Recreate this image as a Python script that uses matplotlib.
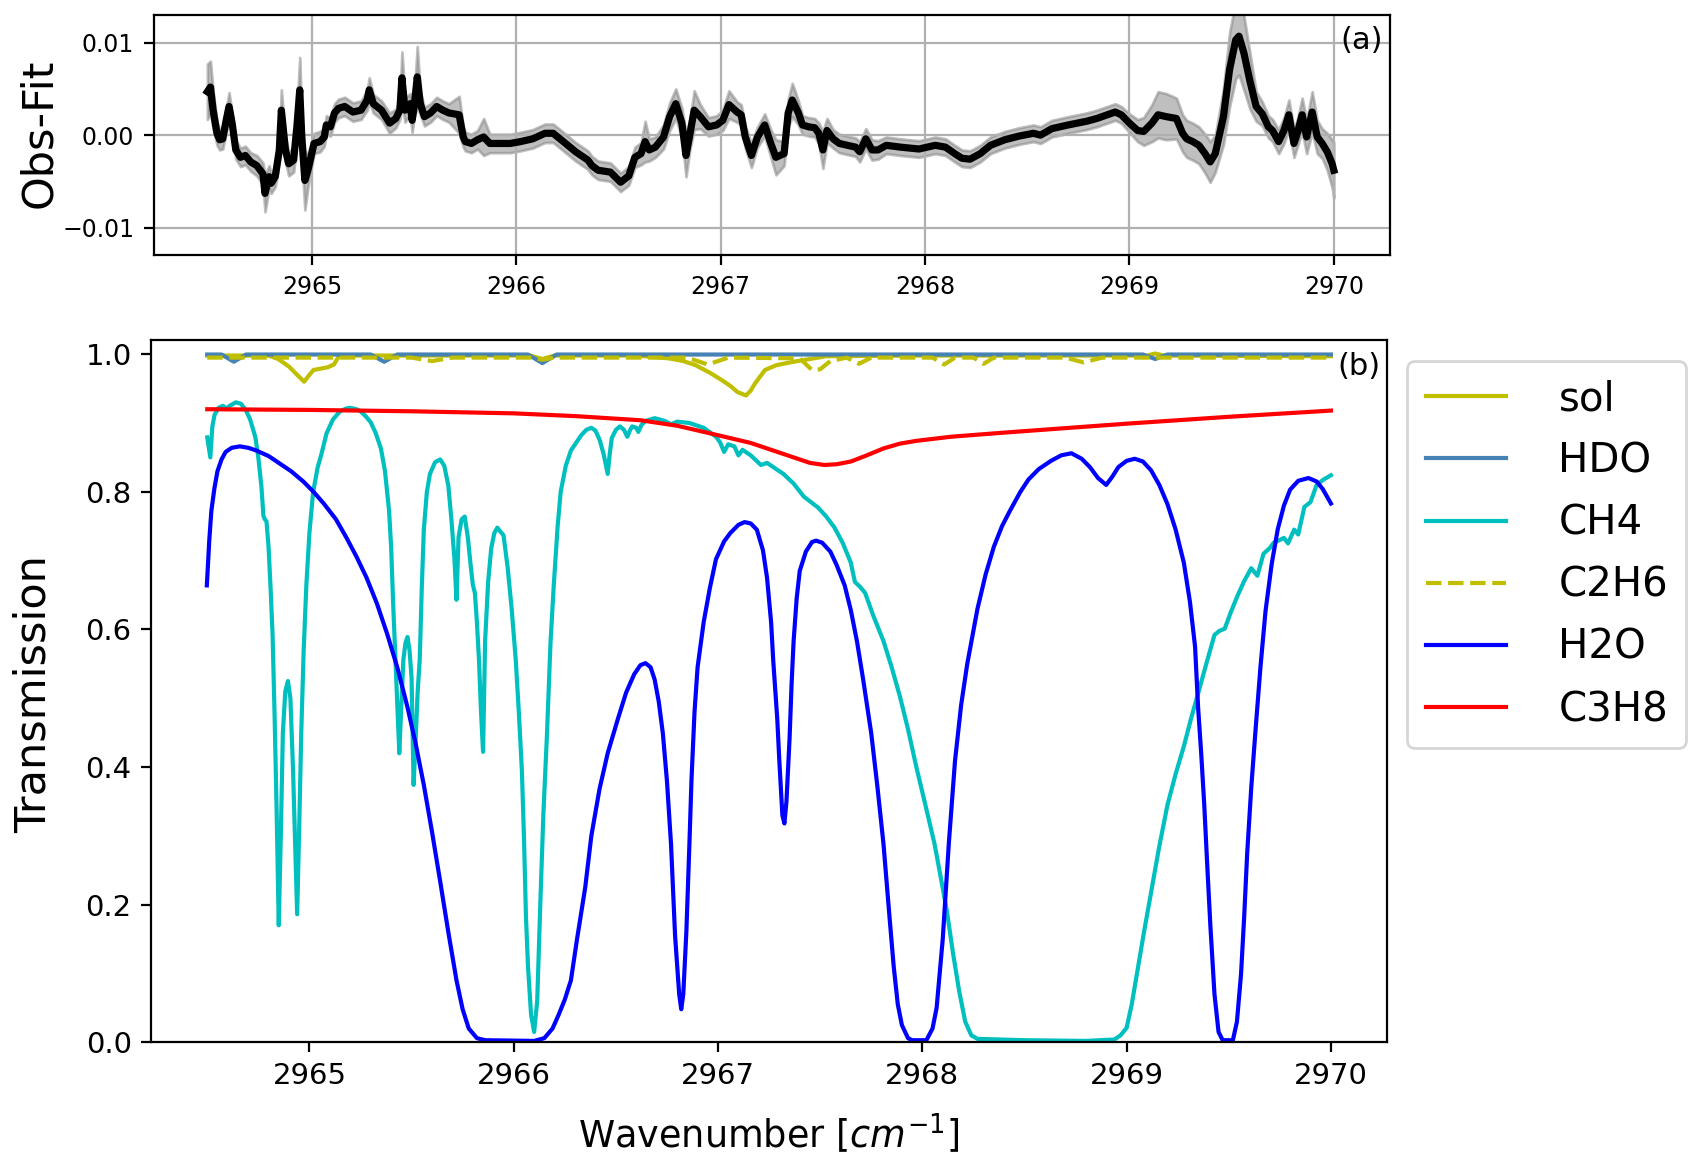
import matplotlib
matplotlib.use("Agg")
import matplotlib.pyplot as plt

# ---- panel (a): residual Obs-Fit with its uncertainty band ----
obs_x = [2964.488, 2964.503, 2964.516, 2964.535, 2964.548, 2964.563, 2964.580, 2964.594, 2964.609, 2964.627,
         2964.650, 2964.674, 2964.700, 2964.730, 2964.760, 2964.770, 2964.790, 2964.800, 2964.820, 2964.840,
         2964.850, 2964.860, 2964.870, 2964.886, 2964.910, 2964.926, 2964.940, 2964.950, 2964.965, 2964.980,
         2965.010, 2965.040, 2965.060, 2965.070, 2965.090, 2965.110, 2965.130, 2965.160, 2965.200, 2965.240,
         2965.270, 2965.280, 2965.300, 2965.340, 2965.380, 2965.410, 2965.430, 2965.440, 2965.455, 2965.480,
         2965.490, 2965.500, 2965.515, 2965.530, 2965.550, 2965.580, 2965.610, 2965.640, 2965.670, 2965.720,
         2965.740, 2965.750, 2965.780, 2965.810, 2965.840, 2965.870, 2965.910, 2965.970, 2966.020, 2966.080,
         2966.140, 2966.180, 2966.230, 2966.290, 2966.350, 2966.370, 2966.400, 2966.460, 2966.510, 2966.550,
         2966.580, 2966.610, 2966.630, 2966.650, 2966.680, 2966.720, 2966.750, 2966.780, 2966.810, 2966.830,
         2966.850, 2966.870, 2966.900, 2966.940, 2966.980, 2967.010, 2967.040, 2967.080, 2967.100, 2967.120,
         2967.150, 2967.180, 2967.215, 2967.245, 2967.270, 2967.310, 2967.330, 2967.350, 2967.380, 2967.400,
         2967.430, 2967.460, 2967.480, 2967.500, 2967.520, 2967.550, 2967.580, 2967.620, 2967.660, 2967.680,
         2967.710, 2967.740, 2967.770, 2967.810, 2967.880, 2967.970, 2968.050, 2968.100, 2968.145, 2968.180,
         2968.220, 2968.270, 2968.320, 2968.390, 2968.460, 2968.530, 2968.565, 2968.620, 2968.700, 2968.790,
         2968.840, 2968.930, 2968.960, 2969.000, 2969.040, 2969.070, 2969.110, 2969.140, 2969.180, 2969.230,
         2969.260, 2969.280, 2969.310, 2969.340, 2969.370, 2969.395, 2969.420, 2969.460, 2969.490, 2969.520,
         2969.536, 2969.560, 2969.590, 2969.620, 2969.650, 2969.680, 2969.700, 2969.730, 2969.756, 2969.780,
         2969.805, 2969.824, 2969.845, 2969.867, 2969.894, 2969.919, 2969.943, 2969.968, 2969.992, 2970.000]
obs_y = [0.0047, 0.0052, 0.0027, 0.0002, -0.0005, -0.0004, 0.0016, 0.0031, 0.0013, -0.0016,
         -0.0024, -0.0022, -0.0029, -0.0033, -0.0042, -0.0063, -0.0045, -0.0052, -0.0045, -0.0016,
         0.0027, 0.0005, -0.0016, -0.0031, -0.0027, 0.0009, 0.0049, -0.0002, -0.0049, -0.0038,
         -0.0009, -0.0007, -0.0002, 0.0011, 0.0009, 0.0024, 0.0029, 0.0031, 0.0025, 0.0027,
         0.0038, 0.0049, 0.0034, 0.0027, 0.0013, 0.0018, 0.0027, 0.0062, 0.0027, 0.0034,
         0.0016, 0.0031, 0.0063, 0.0034, 0.0020, 0.0024, 0.0031, 0.0027, 0.0024, 0.0022,
         -0.0002, -0.0007, -0.0009, -0.0005, -0.0002, -0.0009, -0.0009, -0.0009, -0.0007, -0.0004,
         0.0002, 0.0002, -0.0007, -0.0018, -0.0027, -0.0033, -0.0038, -0.0040, -0.0051, -0.0044,
         -0.0024, -0.0020, -0.0007, -0.0016, -0.0013, -0.0002, 0.0020, 0.0034, 0.0013, -0.0022,
         0.0002, 0.0027, 0.0020, 0.0009, 0.0011, 0.0016, 0.0033, 0.0025, 0.0022, -0.0002,
         -0.0022, -0.0002, 0.0011, -0.0009, -0.0024, -0.0020, 0.0024, 0.0038, 0.0024, 0.0011,
         0.0009, 0.0008, 0.0002, -0.0016, 0.0005, -0.0004, -0.0009, -0.0011, -0.0013, -0.0018,
         -0.0004, -0.0016, -0.0016, -0.0011, -0.0013, -0.0015, -0.0011, -0.0013, -0.0020, -0.0025,
         -0.0026, -0.0020, -0.0011, -0.0005, -0.0001, 0.0002, 0.0000, 0.0007, 0.0011, 0.0015,
         0.0018, 0.0025, 0.0022, 0.0013, 0.0005, 0.0004, 0.0013, 0.0022, 0.0020, 0.0018,
         0.0002, -0.0004, -0.0007, -0.0011, -0.0020, -0.0029, -0.0020, 0.0020, 0.0071, 0.0103,
         0.0107, 0.0089, 0.0058, 0.0031, 0.0023, 0.0009, 0.0005, -0.0007, 0.0005, 0.0022,
         -0.0009, 0.0004, 0.0022, -0.0002, 0.0025, -0.0002, -0.0009, -0.0018, -0.0031, -0.0038]
obs_err = [0.0030, 0.0028, 0.0020, 0.0013, 0.0011, 0.0011, 0.0013, 0.0015, 0.0011, 0.0010,
           0.0010, 0.0010, 0.0010, 0.0011, 0.0012, 0.0020, 0.0012, 0.0011, 0.0011, 0.0013,
           0.0022, 0.0016, 0.0013, 0.0013, 0.0013, 0.0016, 0.0035, 0.0020, 0.0032, 0.0018,
           0.0011, 0.0011, 0.0010, 0.0010, 0.0010, 0.0010, 0.0010, 0.0010, 0.0010, 0.0010,
           0.0011, 0.0013, 0.0010, 0.0010, 0.0011, 0.0010, 0.0010, 0.0028, 0.0013, 0.0011,
           0.0013, 0.0011, 0.0033, 0.0012, 0.0010, 0.0010, 0.0010, 0.0010, 0.0010, 0.0020,
           0.0011, 0.0010, 0.0010, 0.0010, 0.0020, 0.0010, 0.0010, 0.0010, 0.0010, 0.0010,
           0.0010, 0.0010, 0.0010, 0.0010, 0.0010, 0.0010, 0.0010, 0.0010, 0.0010, 0.0010,
           0.0011, 0.0012, 0.0022, 0.0012, 0.0011, 0.0013, 0.0015, 0.0016, 0.0016, 0.0023,
           0.0016, 0.0021, 0.0013, 0.0010, 0.0010, 0.0011, 0.0015, 0.0011, 0.0011, 0.0012,
           0.0013, 0.0011, 0.0012, 0.0015, 0.0019, 0.0013, 0.0015, 0.0018, 0.0013, 0.0010,
           0.0010, 0.0010, 0.0011, 0.0020, 0.0013, 0.0010, 0.0010, 0.0010, 0.0010, 0.0011,
           0.0011, 0.0011, 0.0010, 0.0009, 0.0009, 0.0009, 0.0009, 0.0009, 0.0009, 0.0009,
           0.0009, 0.0009, 0.0009, 0.0009, 0.0009, 0.0009, 0.0009, 0.0009, 0.0009, 0.0009,
           0.0009, 0.0009, 0.0009, 0.0010, 0.0012, 0.0015, 0.0020, 0.0025, 0.0025, 0.0022,
           0.0020, 0.0020, 0.0020, 0.0020, 0.0021, 0.0022, 0.0020, 0.0030, 0.0040, 0.0042,
           0.0042, 0.0040, 0.0030, 0.0016, 0.0013, 0.0012, 0.0012, 0.0013, 0.0014, 0.0016,
           0.0015, 0.0015, 0.0018, 0.0018, 0.0022, 0.0018, 0.0016, 0.0020, 0.0026, 0.0030]

# ---- panel (b): transmission spectra per species ----
sol_x = [2964.50, 2964.80, 2964.847, 2964.90, 2964.94, 2964.974, 2965.00, 2965.02, 2965.09, 2965.12,
         2965.146, 2965.60, 2966.08, 2966.14, 2966.20, 2966.60, 2966.757, 2966.83, 2966.89, 2966.96,
         2967.02, 2967.06, 2967.095, 2967.137, 2967.16, 2967.18, 2967.23, 2967.285, 2967.37, 2967.43,
         2967.53, 2968.00, 2969.10, 2969.14, 2969.18, 2970.00]
sol_y = [0.998, 0.998, 0.993, 0.982, 0.970, 0.960, 0.970, 0.977, 0.981, 0.985,
         0.998, 0.998, 0.998, 0.993, 0.998, 0.998, 0.994, 0.990, 0.984, 0.973,
         0.962, 0.954, 0.945, 0.940, 0.947, 0.957, 0.977, 0.984, 0.989, 0.992,
         0.997, 0.998, 0.998, 1.001, 0.998, 0.997]

hdo_x = [2964.50, 2964.57, 2964.63, 2964.69, 2965.30, 2965.366, 2965.43, 2966.07, 2966.14, 2966.21,
         2969.08, 2969.14, 2969.20, 2970.00]
hdo_y = [0.9995, 0.9995, 0.989, 0.9995, 0.9995, 0.989, 0.9995, 0.9995, 0.987, 0.9995,
         0.9995, 0.993, 0.9995, 0.9995]

ch4_x = [2964.500, 2964.507, 2964.515, 2964.525, 2964.536, 2964.555, 2964.577, 2964.595, 2964.610, 2964.640,
         2964.665, 2964.690, 2964.710, 2964.735, 2964.750, 2964.765, 2964.775, 2964.782, 2964.790, 2964.800,
         2964.810, 2964.820, 2964.830, 2964.840, 2964.850, 2964.860, 2964.870, 2964.882, 2964.895, 2964.907,
         2964.920, 2964.930, 2964.940, 2964.950, 2964.960, 2964.972, 2964.985, 2965.000, 2965.018, 2965.040,
         2965.059, 2965.084, 2965.115, 2965.150, 2965.180, 2965.200, 2965.230, 2965.250, 2965.275, 2965.300,
         2965.325, 2965.350, 2965.370, 2965.390, 2965.400, 2965.410, 2965.425, 2965.440, 2965.450, 2965.460,
         2965.470, 2965.480, 2965.490, 2965.500, 2965.510, 2965.520, 2965.530, 2965.540, 2965.550, 2965.560,
         2965.575, 2965.590, 2965.615, 2965.640, 2965.660, 2965.680, 2965.695, 2965.710, 2965.720, 2965.730,
         2965.745, 2965.760, 2965.775, 2965.790, 2965.800, 2965.810, 2965.820, 2965.830, 2965.840, 2965.850,
         2965.860, 2965.875, 2965.890, 2965.905, 2965.920, 2965.935, 2965.950, 2965.970, 2965.990, 2966.010,
         2966.025, 2966.040, 2966.050, 2966.060, 2966.070, 2966.085, 2966.100, 2966.115, 2966.130, 2966.145,
         2966.163, 2966.180, 2966.196, 2966.215, 2966.230, 2966.255, 2966.280, 2966.330, 2966.355, 2966.380,
         2966.400, 2966.420, 2966.440, 2966.460, 2966.470, 2966.480, 2966.500, 2966.520, 2966.540, 2966.556,
         2966.570, 2966.580, 2966.600, 2966.610, 2966.625, 2966.645, 2966.690, 2966.740, 2966.770, 2966.800,
         2966.860, 2966.930, 2966.990, 2967.010, 2967.030, 2967.050, 2967.080, 2967.100, 2967.120, 2967.160,
         2967.210, 2967.240, 2967.280, 2967.320, 2967.370, 2967.420, 2967.455, 2967.490, 2967.530, 2967.570,
         2967.610, 2967.650, 2967.670, 2967.695, 2967.720, 2967.760, 2967.810, 2967.850, 2967.890, 2967.930,
         2967.970, 2968.015, 2968.060, 2968.090, 2968.120, 2968.150, 2968.180, 2968.210, 2968.240, 2968.270,
         2968.500, 2968.800, 2968.940, 2968.970, 2969.000, 2969.025, 2969.050, 2969.085, 2969.120, 2969.160,
         2969.200, 2969.240, 2969.280, 2969.315, 2969.350, 2969.390, 2969.430, 2969.455, 2969.480, 2969.510,
         2969.540, 2969.575, 2969.610, 2969.640, 2969.670, 2969.700, 2969.720, 2969.750, 2969.770, 2969.790,
         2969.820, 2969.840, 2969.870, 2969.900, 2969.930, 2969.965, 2970.000]
ch4_y = [0.879, 0.865, 0.850, 0.895, 0.912, 0.922, 0.925, 0.921, 0.925, 0.930,
         0.928, 0.918, 0.905, 0.880, 0.850, 0.808, 0.765, 0.760, 0.757, 0.720,
         0.660, 0.590, 0.470, 0.330, 0.170, 0.300, 0.449, 0.510, 0.525, 0.500,
         0.395, 0.290, 0.186, 0.310, 0.449, 0.570, 0.664, 0.740, 0.799, 0.835,
         0.855, 0.885, 0.905, 0.917, 0.921, 0.922, 0.920, 0.917, 0.910, 0.901,
         0.885, 0.863, 0.830, 0.772, 0.720, 0.637, 0.530, 0.420, 0.490, 0.556,
         0.580, 0.589, 0.570, 0.530, 0.374, 0.440, 0.510, 0.556, 0.660, 0.745,
         0.800, 0.826, 0.843, 0.847, 0.838, 0.809, 0.760, 0.702, 0.643, 0.734,
         0.760, 0.764, 0.735, 0.691, 0.665, 0.653, 0.610, 0.556, 0.480, 0.422,
         0.583, 0.670, 0.718, 0.740, 0.748, 0.742, 0.737, 0.691, 0.630, 0.556,
         0.480, 0.395, 0.300, 0.182, 0.110, 0.040, 0.015, 0.060, 0.200, 0.330,
         0.449, 0.580, 0.664, 0.750, 0.800, 0.838, 0.860, 0.882, 0.890, 0.893,
         0.889, 0.876, 0.855, 0.826, 0.855, 0.878, 0.890, 0.895, 0.890, 0.880,
         0.890, 0.895, 0.893, 0.887, 0.897, 0.903, 0.907, 0.903, 0.898, 0.902,
         0.900, 0.893, 0.880, 0.872, 0.858, 0.869, 0.866, 0.853, 0.861, 0.853,
         0.839, 0.842, 0.834, 0.826, 0.812, 0.793, 0.785, 0.777, 0.764, 0.748,
         0.726, 0.697, 0.669, 0.662, 0.653, 0.620, 0.583, 0.545, 0.503, 0.455,
         0.401, 0.345, 0.288, 0.240, 0.191, 0.130, 0.075, 0.030, 0.010, 0.005,
         0.003, 0.002, 0.004, 0.010, 0.021, 0.055, 0.099, 0.160, 0.218, 0.285,
         0.345, 0.390, 0.430, 0.470, 0.507, 0.550, 0.592, 0.598, 0.601, 0.625,
         0.647, 0.670, 0.689, 0.678, 0.710, 0.718, 0.726, 0.730, 0.733, 0.725,
         0.745, 0.738, 0.778, 0.785, 0.810, 0.818, 0.824]

c2h6_x = [2964.50, 2965.50, 2965.60, 2965.70, 2966.08, 2966.14, 2966.20, 2966.85, 2966.95, 2967.05,
          2967.40, 2967.46, 2967.50, 2967.55, 2967.63, 2967.69, 2967.75, 2968.05, 2968.107, 2968.16,
          2968.25, 2968.30, 2968.35, 2968.70, 2968.79, 2968.88, 2970.00]
c2h6_y = [0.995, 0.995, 0.990, 0.995, 0.995, 0.992, 0.995, 0.995, 0.985, 0.995,
          0.994, 0.977, 0.978, 0.990, 0.995, 0.986, 0.995, 0.995, 0.985, 0.995,
          0.995, 0.986, 0.995, 0.995, 0.988, 0.995, 0.995]

h2o_x = [2964.498, 2964.510, 2964.520, 2964.535, 2964.550, 2964.570, 2964.590, 2964.620, 2964.660, 2964.700,
         2964.740, 2964.800, 2964.850, 2964.910, 2964.970, 2965.020, 2965.070, 2965.130, 2965.180, 2965.230,
         2965.280, 2965.330, 2965.380, 2965.430, 2965.480, 2965.520, 2965.560, 2965.600, 2965.640, 2965.680,
         2965.720, 2965.750, 2965.780, 2965.820, 2965.860, 2966.100, 2966.150, 2966.190, 2966.220, 2966.250,
         2966.280, 2966.310, 2966.350, 2966.380, 2966.420, 2966.460, 2966.510, 2966.550, 2966.590, 2966.620,
         2966.645, 2966.670, 2966.690, 2966.710, 2966.730, 2966.750, 2966.770, 2966.790, 2966.810, 2966.820,
         2966.830, 2966.845, 2966.860, 2966.870, 2966.885, 2966.900, 2966.930, 2966.960, 2966.990, 2967.030,
         2967.060, 2967.100, 2967.130, 2967.160, 2967.190, 2967.220, 2967.240, 2967.260, 2967.270, 2967.290,
         2967.300, 2967.315, 2967.325, 2967.335, 2967.350, 2967.360, 2967.370, 2967.385, 2967.400, 2967.430,
         2967.460, 2967.480, 2967.510, 2967.550, 2967.580, 2967.620, 2967.650, 2967.680, 2967.710, 2967.750,
         2967.780, 2967.810, 2967.840, 2967.860, 2967.880, 2967.900, 2967.930, 2967.950, 2968.020, 2968.050,
         2968.070, 2968.100, 2968.130, 2968.160, 2968.190, 2968.220, 2968.270, 2968.310, 2968.350, 2968.390,
         2968.430, 2968.480, 2968.520, 2968.570, 2968.630, 2968.680, 2968.730, 2968.780, 2968.820, 2968.860,
         2968.900, 2968.930, 2968.960, 2969.000, 2969.040, 2969.080, 2969.120, 2969.160, 2969.200, 2969.240,
         2969.280, 2969.310, 2969.335, 2969.350, 2969.365, 2969.380, 2969.395, 2969.410, 2969.430, 2969.450,
         2969.470, 2969.520, 2969.540, 2969.560, 2969.575, 2969.590, 2969.610, 2969.630, 2969.655, 2969.680,
         2969.710, 2969.740, 2969.770, 2969.800, 2969.840, 2969.890, 2969.930, 2969.960, 2970.000]
h2o_y = [0.664, 0.730, 0.772, 0.805, 0.830, 0.847, 0.858, 0.864, 0.866, 0.864,
         0.860, 0.852, 0.842, 0.830, 0.815, 0.800, 0.783, 0.760, 0.734, 0.706,
         0.675, 0.638, 0.594, 0.545, 0.487, 0.434, 0.374, 0.306, 0.234, 0.160,
         0.090, 0.048, 0.020, 0.006, 0.003, 0.002, 0.006, 0.020, 0.040, 0.062,
         0.090, 0.150, 0.225, 0.300, 0.368, 0.420, 0.470, 0.508, 0.535, 0.548,
         0.551, 0.545, 0.527, 0.495, 0.449, 0.380, 0.288, 0.154, 0.070, 0.048,
         0.070, 0.160, 0.288, 0.380, 0.480, 0.545, 0.611, 0.660, 0.702, 0.728,
         0.740, 0.752, 0.756, 0.754, 0.745, 0.715, 0.675, 0.610, 0.556, 0.470,
         0.410, 0.330, 0.318, 0.350, 0.440, 0.520, 0.583, 0.645, 0.685, 0.713,
         0.727, 0.729, 0.726, 0.713, 0.694, 0.664, 0.628, 0.583, 0.528, 0.449,
         0.372, 0.288, 0.180, 0.110, 0.055, 0.025, 0.006, 0.003, 0.003, 0.020,
         0.050, 0.150, 0.290, 0.409, 0.490, 0.550, 0.630, 0.680, 0.720, 0.750,
         0.773, 0.800, 0.818, 0.833, 0.845, 0.853, 0.856, 0.848, 0.836, 0.820,
         0.810, 0.822, 0.836, 0.845, 0.848, 0.844, 0.831, 0.810, 0.782, 0.745,
         0.697, 0.640, 0.575, 0.486, 0.420, 0.345, 0.255, 0.169, 0.070, 0.015,
         0.003, 0.003, 0.030, 0.099, 0.180, 0.274, 0.370, 0.450, 0.545, 0.627,
         0.695, 0.746, 0.780, 0.803, 0.816, 0.820, 0.815, 0.804, 0.783]

c3h8_x = [2964.50, 2965.00, 2965.50, 2966.00, 2966.30, 2966.62, 2966.80, 2966.96, 2967.16, 2967.32,
          2967.40, 2967.45, 2967.52, 2967.58, 2967.65, 2967.72, 2967.81, 2967.89, 2967.97, 2968.14,
          2968.40, 2968.63, 2969.00, 2969.50, 2970.00]
c3h8_y = [0.920, 0.919, 0.917, 0.914, 0.910, 0.904, 0.896, 0.885, 0.871, 0.855,
          0.847, 0.842, 0.839, 0.840, 0.844, 0.852, 0.863, 0.870, 0.874, 0.880,
          0.886, 0.891, 0.899, 0.909, 0.918]

fig = plt.figure(figsize=(8.535, 5.845), dpi=200)

# top panel
ax1 = fig.add_axes([0.0900, 0.7816, 0.7243, 0.2056])
ax1.fill_between(obs_x, [y - e for y, e in zip(obs_y, obs_err)],
                 [y + e for y, e in zip(obs_y, obs_err)], color='gray', alpha=0.5)
ax1.plot(obs_x, obs_y, color='k', lw=2.6)
ax1.grid(True)
ax1.set_xlim(2964.225, 2970.275)
ax1.set_ylim(-0.013, 0.013)
ax1.set_yticks([-0.01, 0.0, 0.01])
ax1.tick_params(labelsize=8.5)
ax1.set_ylabel('Obs-Fit', fontsize=15.5, va='center')
ax1.yaxis.set_label_coords(-0.093, 0.507)
ax1.text(0.994, 0.955, '(a)', transform=ax1.transAxes, ha='right', va='top', fontsize=11)

# bottom panel
ax2 = fig.add_axes([0.0885, 0.1084, 0.7241, 0.6004])
ax2.plot(sol_x, sol_y, color='y', lw=1.5, label='sol')
ax2.plot(hdo_x, hdo_y, color='steelblue', lw=1.5, label='HDO')
ax2.plot(ch4_x, ch4_y, color='c', lw=1.5, label='CH4')
ax2.plot(c2h6_x, c2h6_y, color='y', lw=1.5, ls='--', label='C2H6')
ax2.plot(h2o_x, h2o_y, color='b', lw=1.5, label='H2O')
ax2.plot(c3h8_x, c3h8_y, color='r', lw=1.5, label='C3H8')
ax2.set_xlim(2964.225, 2970.275)
ax2.set_ylim(0, 1.02)
ax2.tick_params(labelsize=10.5)
ax2.set_ylabel('Transmission', fontsize=15.5, va='center')
ax2.yaxis.set_label_coords(-0.095, 0.4955)
ax2.set_xlabel(r'Wavenumber [$cm^{-1}$]', fontsize=13.2, va='center')
ax2.xaxis.set_label_coords(0.5, -0.131)
ax2.text(0.995, 0.984, '(b)', transform=ax2.transAxes, ha='right', va='top', fontsize=11)

fig.legend(loc='upper left', bbox_to_anchor=(0.8245, 0.691), borderaxespad=0,
           fontsize=14.5, handlelength=2.0, handletextpad=1.3, labelspacing=0.55,
           borderpad=0.45)

fig.savefig('out.png', dpi=200)
